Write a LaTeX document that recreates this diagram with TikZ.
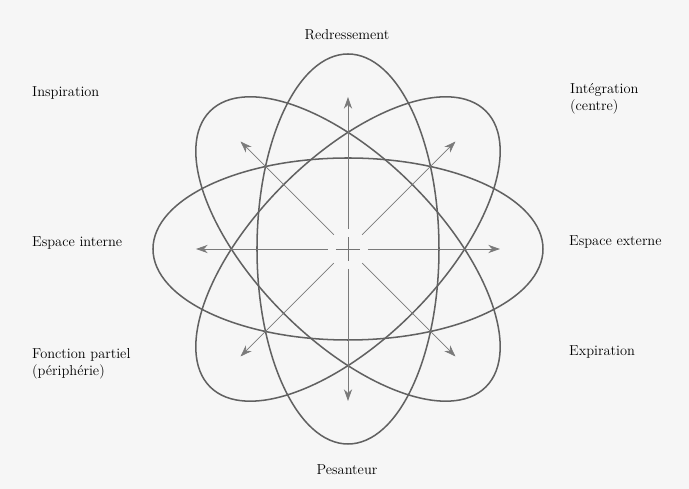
\documentclass[tikz,border=0pt]{standalone}
\usepackage{tikz}
\usetikzlibrary{arrows.meta}

\begin{document}
\begin{tikzpicture}[x=0.03cm,y=0.03cm,>={Stealth[length=10pt,width=7pt]},
    orbit/.style={draw=black!62,line width=1.3pt},
    ray/.style={draw=black!52,line width=0.6pt,->},
    lab/.style={font=\fontsize{12.3}{14.5}\selectfont,text=black,inner sep=0pt}]
  \fill[gray!7] (-348,-240) rectangle (341,249);
  \useasboundingbox (-348,-240) rectangle (341,249);
  \coordinate (o) at (0,0);
  % the four ellipses
  \foreach \ang in {0,45,90,135} {
    \draw[orbit,rotate=\ang] (o) ellipse [x radius=195, y radius=91];
  }
  % the eight arrows
  \foreach \ang in {0,45,...,315} {
    \draw[ray] (\ang:20) -- (\ang:152);
  }
  \draw[black!55,line width=0.8pt] (-12,0) -- (12,0) (0,-12) -- (0,12);
  % labels
  \node[lab] (up) at (-1,214) {Redressement};
  \node[lab] (down) at (-1,-221) {Pesanteur};
  \node[lab,anchor=west] (insp) at (-316,156) {Inspiration};
  \node[lab,anchor=west,align=left] (integ) at (222,150) {Int\'egration\\(centre)};
  \node[lab,anchor=west] (int) at (-316,6) {Espace interne};
  \node[lab,anchor=west] (ext) at (221,7) {Espace externe};
  \node[lab,anchor=west,align=left] (fonc) at (-316,-115) {Fonction partiel\\(p\'eriph\'erie)};
  \node[lab,anchor=west] (expi) at (221,-103) {Expiration};
\end{tikzpicture}
\end{document}
